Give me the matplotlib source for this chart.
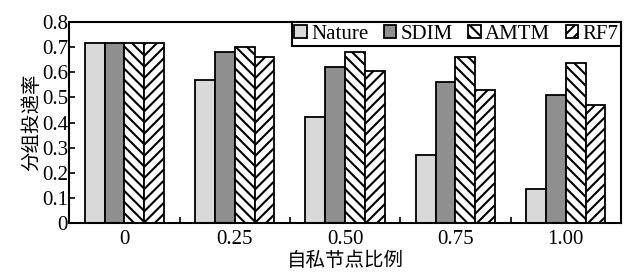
import numpy as np
import matplotlib
matplotlib.use('Agg')
import matplotlib.pyplot as plt

plt.rcParams['font.family'] = ['Liberation Serif', 'Noto Sans CJK SC']
plt.rcParams['hatch.linewidth'] = 1.5

categories = ['0', '0.25', '0.50', '0.75', '1.00']
nature = [0.715, 0.57, 0.42, 0.27, 0.135]
sdim = [0.715, 0.68, 0.62, 0.56, 0.51]
amtm = [0.715, 0.70, 0.68, 0.66, 0.635]
rf7 = [0.715, 0.66, 0.605, 0.528, 0.468]

series = [
    ('Nature', nature, '#d9d9d9', ''),
    ('SDIM', sdim, '#8f8f8f', ''),
    ('AMTM', amtm, 'white', '\\\\\\'),
    ('RF7', rf7, 'white', '///'),
]

fig = plt.figure(figsize=(6.24, 2.75), dpi=100)
ax = fig.add_axes([0.111, 0.189, 0.884, 0.731])

x = np.arange(len(categories))
w = 0.18
for i, (name, vals, color, hatch) in enumerate(series):
    ax.bar(x + (i - 1.5) * w, vals, w, color=color, edgecolor='black',
           linewidth=1.3, hatch=hatch, label=name)

ax.set_xlim(-0.5, 4.5)
ax.set_ylim(0, 0.8)
ax.set_yticks(np.arange(0, 0.81, 0.1))
ax.set_yticklabels(['0'] + ['%.1f' % v for v in np.arange(0.1, 0.81, 0.1)])
ax.set_xticks(x)
ax.set_xticklabels(categories)
ax.set_xticks(x[:-1] + 0.5, minor=True)
ax.tick_params(axis='x', which='major', length=0, labelsize=15, pad=5)
ax.tick_params(axis='x', which='minor', direction='in', length=4, width=1.2, top=False)
ax.tick_params(axis='y', direction='in', length=4, width=1.2, labelsize=15, pad=1)
for s in ax.spines.values():
    s.set_linewidth(1.5)

ax.set_xlabel('自私节点比例', fontsize=14, family=['Noto Sans CJK SC'], labelpad=1)
ax.set_ylabel('分组投递率', fontsize=14, family=['Noto Sans CJK SC'], labelpad=0)

leg = ax.legend(loc='upper right', bbox_to_anchor=(1, 1), ncol=4, fontsize=15,
                frameon=True, fancybox=False, edgecolor='black', framealpha=1,
                borderaxespad=0, handlelength=0.6, handleheight=0.6,
                handletextpad=0.2, columnspacing=0.75, borderpad=0.12)
leg.get_frame().set_linewidth(1.5)

fig.savefig('out.png', dpi=100)
